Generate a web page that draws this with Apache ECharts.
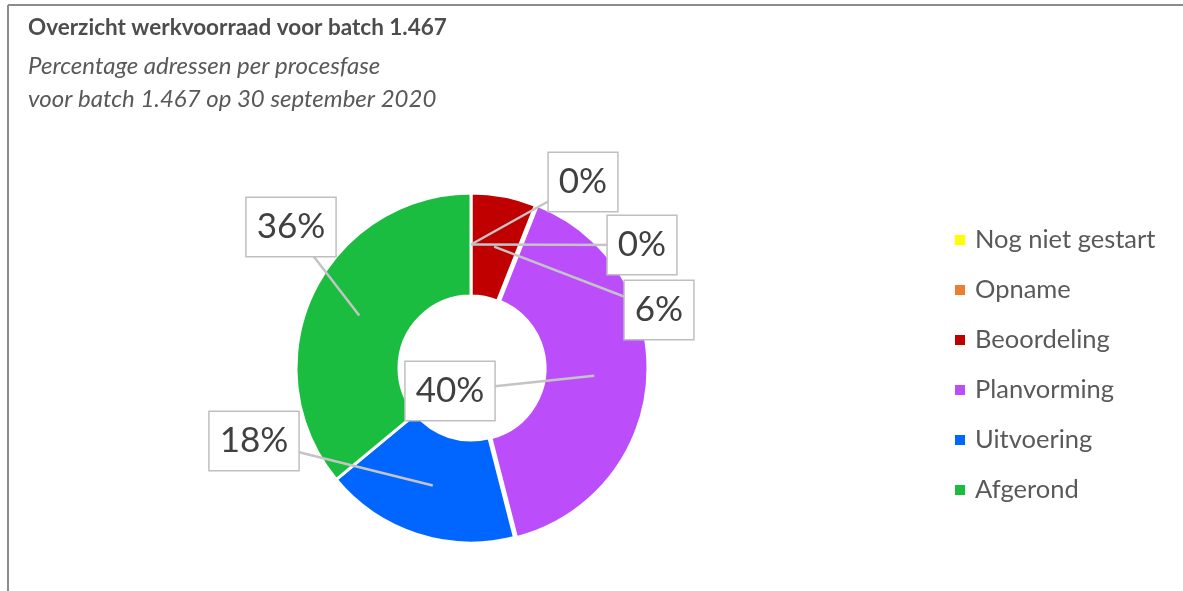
<!DOCTYPE html>
<html><head><meta charset="utf-8">
<script src="https://cdn.jsdelivr.net/npm/echarts@6/dist/echarts.min.js"></script>
<style>html,body{margin:0;padding:0;background:#fff}#c{width:1183px;height:591px}</style>
</head><body><div id="c"></div>
<script>
const categories = ['Nog niet gestart', 'Opname', 'Beoordeling', 'Planvorming', 'Uitvoering', 'Afgerond'];
const values = [0, 0, 6, 40, 18, 36];
const colors = ['#FFFF00', '#ED7D31', '#C00000', '#BB4EFA', '#0066FF', '#1ABD3F'];
const labelPositions = [[583, 182], [642, 245], [659, 310], [450, 391], [254, 441], [291, 227]];

const CX = 471, CY = 368, R0 = 72, R1 = 175, RMID = (R0 + R1) / 2;
const total = values.reduce((a, b) => a + b, 0);
const midAngles = [];
let acc = 0;
values.forEach(v => { midAngles.push((acc + v / 2) / total * 2 * Math.PI); acc += v; });

const pieBase = {
  type: 'pie', center: [CX, CY], radius: [R0, R1], startAngle: 90, clockwise: true,
  avoidLabelOverlap: false, emphasis: {disabled: true}
};

const chart = echarts.init(document.getElementById('c'), null, {renderer: 'canvas'});
chart.setOption({
  animation: false,
  backgroundColor: '#fff',
  title: {
    left: 28, top: 16, padding: 0, itemGap: 11,
    text: 'Overzicht werkvoorraad voor batch 1.467',
    subtext: 'Percentage adressen per procesfase\nvoor batch 1.467 op 30 september 2020',
    textStyle: {fontSize: 22.5, fontWeight: 'bold', color: '#4d4d4d', fontFamily: 'Lato'},
    subtextStyle: {fontSize: 24, fontStyle: 'italic', color: '#595959', fontFamily: 'Lato', lineHeight: 33}
  },
  legend: {
    orient: 'vertical', left: 948, top: 221, itemWidth: 12, itemHeight: 12, itemGap: 22,
    icon: 'rect', selectedMode: false,
    textStyle: {fontSize: 25.5, color: '#595959', fontFamily: 'Lato', lineHeight: 28, padding: [0, 0, 0, 4]},
    data: categories
  },
  graphic: [
    {type: 'line', shape: {x1: 8, y1: 5, x2: 8, y2: 591}, style: {stroke: '#8c8c8c', lineWidth: 2}},
    {type: 'line', shape: {x1: 8, y1: 5, x2: 1183, y2: 5}, style: {stroke: '#8c8c8c', lineWidth: 2}}
  ],
  series: [
    Object.assign({}, pieBase, {
      z: 2,
      selectedMode: 'single',
      selectedOffset: 2,
      itemStyle: {borderColor: '#fff', borderWidth: 3},
      label: {show: false},
      labelLine: {show: false},
      data: categories.map((n, i) => ({name: n, value: values[i], selected: n === 'Planvorming', itemStyle: {color: colors[i]}}))
    }),
    Object.assign({}, pieBase, {
      z: 5,
      silent: true,
      selectedMode: false,
      itemStyle: {color: 'rgba(0,0,0,0)', borderWidth: 0},
      label: {
        show: true, position: 'outside', formatter: '{c}%',
        fontSize: 35, color: '#404040', fontFamily: 'Lato', lineHeight: 40,
        backgroundColor: '#fff', borderColor: '#BFBFBF', borderWidth: 1.5, padding: [9, 10, 9, 10]
      },
      labelLine: {show: true, lineStyle: {color: '#C4C4C4', width: 2.5}},
      labelLayout: function (params) {
        const i = params.dataIndex;
        const a = midAngles[i];
        const ax = CX + RMID * Math.sin(a), ay = CY - RMID * Math.cos(a);
        const p = labelPositions[i];
        return {x: p[0], y: p[1], align: 'center', verticalAlign: 'middle',
          labelLinePoints: [[ax, ay], [p[0], p[1]], [p[0], p[1]]]};
      },
      data: categories.map((n, i) => ({name: n, value: values[i]}))
    })
  ]
});
</script></body></html>
